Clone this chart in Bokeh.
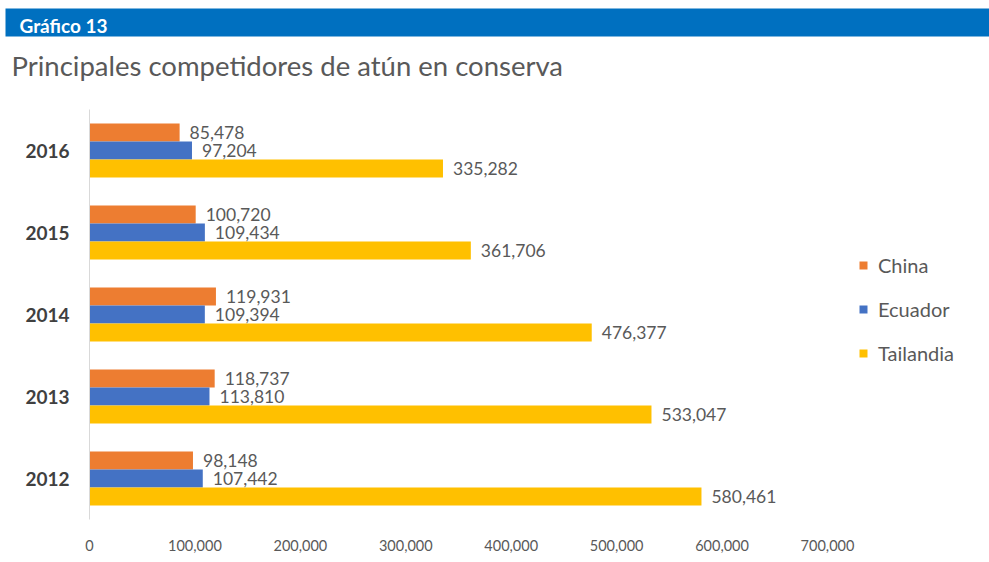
from bokeh.plotting import figure
from bokeh.models import (ColumnDataSource, Range1d, FactorRange, FixedTicker,
                          NumeralTickFormatter, Legend, LegendItem)
from bokeh.transform import dodge
from bokeh.layouts import column, row
from bokeh.core.properties import value
from bokeh.embed import file_html
from bokeh.resources import INLINE

years = ["2012", "2013", "2014", "2015", "2016"]
china = [98148, 118737, 119931, 100720, 85478]
ecuador = [107442, 113810, 109394, 109434, 97204]
tailandia = [580461, 533047, 476377, 361706, 335282]
ticks = [0, 100000, 200000, 300000, 400000, 500000, 600000, 700000]
series_names = ["China", "Ecuador", "Tailandia"]
colors = ["#ED7D31", "#4472C4", "#FFC000"]

FONT = "Lato"
W = 989
HH = 81

# ---------- header (banner + title) ----------
hdr = figure(width=W, height=HH, x_range=Range1d(0, W), y_range=Range1d(HH, 0),
             output_backend="svg", toolbar_location=None,
             min_border=0, outline_line_color=None)
hdr.axis.visible = False
hdr.grid.visible = False
hdr.quad(left=5, right=W, top=8, bottom=36, color="#0070C0", line_color=None)
hdr.text(x=[19], y=[25], text=["Gráfico 13"], text_color="white",
         text_font=value(FONT), text_font_style="bold", text_font_size="19px",
         text_baseline="middle", text_align="left")
hdr.text(x=[11], y=[65], text=["Principales competidores de atún en conserva"],
         text_color="#595959", text_font=value(FONT), text_font_size="27.5px",
         text_baseline="middle", text_align="left")

# ---------- main chart ----------
left_b, right_b = 89, 9
frame_w = W - left_b - right_b
x_end = ticks[-1] * frame_w / 738.0

p = figure(width=W, height=562 - HH, y_range=FactorRange(*years),
           x_range=Range1d(0, x_end), output_backend="svg", toolbar_location=None,
           min_border_left=left_b, min_border_right=right_b,
           min_border_top=28, min_border_bottom=43, outline_line_color=None)
p.grid.visible = False

offsets = [0.22, 0.0, -0.22]
renderers = []
for name, vals, col, off in zip(series_names, [china, ecuador, tailandia], colors, offsets):
    src = ColumnDataSource(dict(year=years, v=vals, lab=[f"{x:,}" for x in vals]))
    r = p.hbar(y=dodge("year", off, range=p.y_range), right="v", left=0, height=0.22,
               source=src, fill_color=col, line_color=None)
    p.text(x="v", y=dodge("year", off, range=p.y_range), text="lab", source=src,
           x_offset=10, text_baseline="middle", text_align="left",
           text_font=value(FONT), text_font_size="17.5px", text_color="#595959")
    renderers.append((name, r))

# axes
p.xaxis.ticker = FixedTicker(ticks=ticks)
p.xaxis.formatter = NumeralTickFormatter(format="0,0")
p.xaxis.axis_line_color = None
p.xaxis.major_tick_line_color = None
p.xaxis.minor_tick_line_color = None
p.xaxis.major_label_standoff = 14
p.xaxis.major_label_text_font = FONT
p.xaxis.major_label_text_font_size = "14.5px"
p.xaxis.major_label_text_color = "#595959"

p.yaxis.axis_line_color = "#D9D9D9"
p.yaxis.major_tick_line_color = None
p.yaxis.minor_tick_line_color = None
p.yaxis.major_label_standoff = 14
p.yaxis.major_label_text_font = FONT
p.yaxis.major_label_text_font_style = "bold"
p.yaxis.major_label_text_font_size = "19px"
p.yaxis.major_label_text_color = "#404040"

legend = Legend(items=[LegendItem(label=n, renderers=[r]) for n, r in renderers],
                location=(769, 154), orientation="vertical",
                glyph_width=10, glyph_height=10, label_height=20,
                label_standoff=10, spacing=20, padding=0, margin=0,
                border_line_color=None, background_fill_alpha=0,
                label_text_font=FONT, label_text_font_size="20px",
                label_text_color="#595959")
p.add_layout(legend)

layout = column(row(hdr), p, spacing=0)
open("out.html", "w").write(file_html(layout, INLINE))
